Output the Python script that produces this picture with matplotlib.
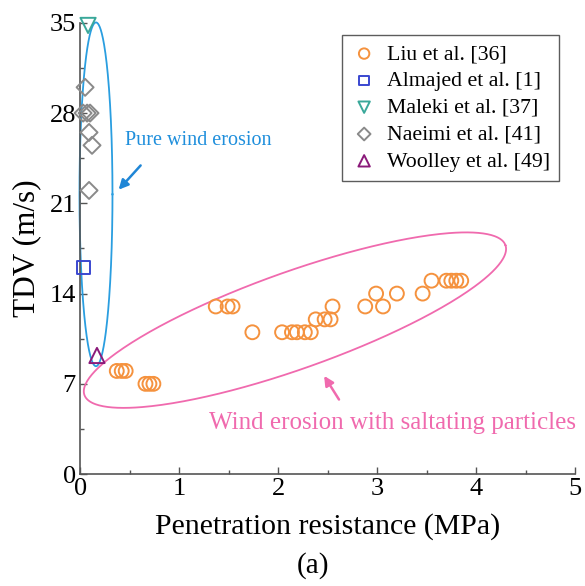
import numpy as np
import matplotlib
matplotlib.use('Agg')
import matplotlib.pyplot as plt

plt.rcParams['font.family'] = ['Liberation Serif', 'DejaVu Serif']

# data
liu_x = [0.37, 0.42, 0.46, 0.66, 0.70, 0.74, 1.37, 1.49, 1.54, 1.74,
         2.04, 2.14, 2.19, 2.27, 2.33, 2.38, 2.47, 2.53, 2.55, 2.88,
         2.99, 3.06, 3.20, 3.46, 3.55, 3.70, 3.75, 3.80, 3.85]
liu_y = [8, 8, 8, 7, 7, 7, 13, 13, 13, 11,
         11, 11, 11, 11, 11, 12, 12, 12, 13, 13,
         14, 13, 14, 14, 15, 15, 15, 15, 15]
almajed_x = [0.03]
almajed_y = [16]
maleki_x = [0.08]
maleki_y = [34.8]
naeimi_x = [0.05, 0.03, 0.07, 0.10, 0.09, 0.12, 0.09]
naeimi_y = [30, 28, 28, 28, 26.5, 25.5, 22]
woolley_x = [0.17]
woolley_y = [9.2]

fig = plt.figure(figsize=(5.85, 5.86), dpi=100)
ax = fig.add_axes([0.137, 0.191, 0.846, 0.770])

ax.scatter(liu_x, liu_y, s=100, facecolors='none', edgecolors='#f5923e', linewidths=1.4,
           marker='o', label='Liu et al. [36]', zorder=3, clip_on=False)
ax.scatter(almajed_x, almajed_y, s=85, facecolors='none', edgecolors='#3a48d0', linewidths=1.4,
           marker='s', label='Almajed et al. [1]', zorder=3, clip_on=False)
ax.scatter(maleki_x, maleki_y, s=120, facecolors='none', edgecolors='#3aa89a', linewidths=1.4,
           marker='v', label='Maleki et al. [37]', zorder=3, clip_on=False)
ax.scatter(naeimi_x, naeimi_y, s=75, facecolors='none', edgecolors='#8a8a8a', linewidths=1.4,
           marker='D', label='Naeimi et al. [41]', zorder=3, clip_on=False)
ax.scatter(woolley_x, woolley_y, s=120, facecolors='none', edgecolors='#8b1a7a', linewidths=1.4,
           marker='^', label='Woolley et al. [49]', zorder=3, clip_on=False)

# enclosing ellipses, shaped in screen-like units (px per data unit)
sx, sy = 99.0, 12.9
t = np.linspace(0, 2 * np.pi, 400)

def ellipse(cx, cy, a, b, ang):
    th = np.radians(ang)
    px = a * np.cos(t) * np.cos(th) - b * np.sin(t) * np.sin(th)
    py = a * np.cos(t) * np.sin(th) + b * np.sin(t) * np.cos(th)
    return cx + px / sx, cy + py / sy

ex, ey = ellipse(0.16, 21.7, 16.5, 172, 0)
ax.plot(ex, ey, color='#2a9ee0', lw=1.3, clip_on=False, zorder=2)
ex, ey = ellipse(2.17, 11.94, 223.5, 48.5, 19.6)
ax.plot(ex, ey, color='#f06aae', lw=1.3, clip_on=False, zorder=2)

ax.annotate('', xy=(0.37, 21.9), xytext=(0.63, 24.1),
            arrowprops=dict(arrowstyle='-|>', color='#1f86d6', lw=1.8, mutation_scale=14))
ax.text(0.45, 25.9, 'Pure wind erosion', color='#1f8fdc', fontsize=14.5, ha='left', va='center')
ax.annotate('', xy=(2.45, 7.8), xytext=(2.63, 5.6),
            arrowprops=dict(arrowstyle='-|>', color='#f06aae', lw=1.8, mutation_scale=14))
ax.text(1.30, 4.0, 'Wind erosion with saltating particles', color='#f06aae', fontsize=18,
        ha='left', va='center')

ax.set_xlim(0, 5)
ax.set_ylim(0, 35)
ax.set_xticks([0, 1, 2, 3, 4, 5])
ax.set_yticks([0, 7, 14, 21, 28, 35])
ax.set_xticks(np.arange(0.5, 5, 1), minor=True)
ax.set_yticks(np.arange(3.5, 35, 7), minor=True)
ax.tick_params(which='major', direction='in', length=5, width=1, color='#555555',
               labelsize=19, pad=3)
ax.tick_params(which='minor', direction='in', length=3, width=1, color='#555555')
for s in ['top', 'right']:
    ax.spines[s].set_visible(False)
for s in ['left', 'bottom']:
    ax.spines[s].set_color('#555555')
    ax.spines[s].set_linewidth(1.2)

ax.set_xlabel('Penetration resistance (MPa)', fontsize=21.5, labelpad=9)
ax.set_ylabel('TDV (m/s)', fontsize=22.5, labelpad=6)
fig.text(0.535, 0.035, '(a)', fontsize=21, ha='center', va='center')

leg = ax.legend(loc='upper right', bbox_to_anchor=(0.977, 0.983), fontsize=15.7,
                frameon=True, fancybox=False, edgecolor='#333333', handletextpad=0.45,
                borderpad=0.42, labelspacing=0.3, handlelength=1.2, markerscale=0.75,
                borderaxespad=0.2)
leg.get_frame().set_linewidth(1.0)

fig.savefig('out.png', dpi=100)
